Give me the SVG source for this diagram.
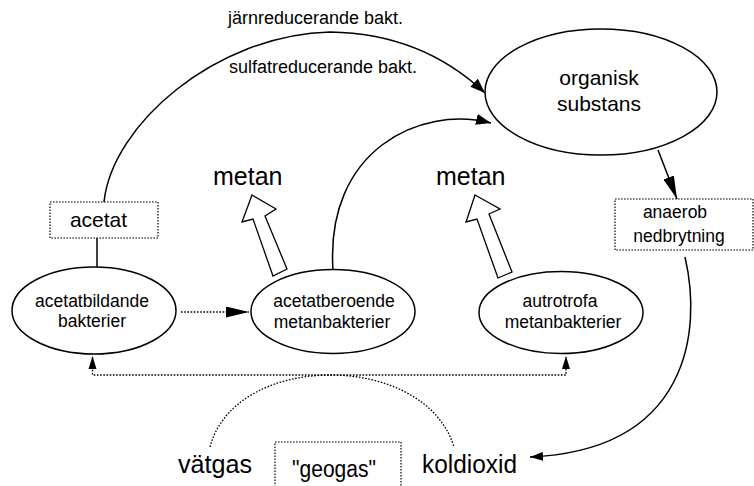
<svg xmlns="http://www.w3.org/2000/svg" width="754" height="486" viewBox="0 0 754 486">
<style>
text{font-family:"Liberation Sans",Arial,sans-serif;fill:#000}
.node{fill:#fff;stroke:#000;stroke-width:1.5}
.box{fill:#fff;stroke:#000;stroke-width:1.2;stroke-dasharray:1.6,1.4}
.line{fill:none;stroke:#000;stroke-width:1.5}
.dot{fill:none;stroke:#000;stroke-width:1.3;stroke-dasharray:1.6,1.6}
.hollow{fill:#fff;stroke:#000;stroke-width:1.3;stroke-linejoin:miter}
.s17{font-size:17.5px}
.s21{font-size:21px}
.s18{font-size:18px}
.s25{font-size:25px}
.s26{font-size:26.5px}
</style>
<defs>
<marker id="ah" markerUnits="userSpaceOnUse" orient="auto" markerWidth="15" markerHeight="11" refX="15" refY="5.5" viewBox="0 0 15 11"><path d="M0,0 L15,5.5 L0,11 z" fill="#000"/></marker>
<marker id="ahl" markerUnits="userSpaceOnUse" orient="auto" markerWidth="23" markerHeight="11" refX="23" refY="5.5" viewBox="0 0 23 11"><path d="M0,0 L23,5.5 L0,11 z" fill="#000"/></marker>
<marker id="ahs" markerUnits="userSpaceOnUse" orient="auto" markerWidth="13" markerHeight="9" refX="13" refY="4.5" viewBox="0 0 13 9"><path d="M0,0 L13,4.5 L0,9 z" fill="#000"/></marker>
</defs>

<g id="connectors">
<path class="line" d="M104,202 C112,125 215,35 330,32 C400,33 450,60 485,93" marker-end="url(#ah)"/>
<path class="line" d="M333,270 C325,150 420,105 491,123" marker-end="url(#ah)"/>
<path class="line" d="M97,238 L97,267"/>
<path class="line" d="M658,150 L677,199" marker-end="url(#ahl)"/>
<path class="line" d="M685,257 C702,330 690,450 530,457" marker-end="url(#ahs)"/>
<path class="dot" d="M181,312 L249,312" marker-end="url(#ahl)"/>
<path class="dot" d="M92.5,357 L92.5,375 L566,375 L566,357"/>
<path d="M92.5,356 L88.5,369 L96.5,369 z M566,356 L562,369 L570,369 z" fill="#000"/>
<path class="dot" d="M210,447 C235,351 425,351 454,447"/>
</g>

<g id="label-jarn"><text class="s18" x="228" y="24">järnreducerande bakt.</text></g>
<g id="label-sulfat"><text class="s18" x="229" y="73">sulfatreducerande bakt.</text></g>

<g id="organisk-substans">
<ellipse class="node" cx="601" cy="92" rx="116" ry="63"/>
<text class="s21" x="599" y="85" text-anchor="middle">organisk</text>
<text class="s21" x="599" y="111" text-anchor="middle">substans</text>
</g>

<g id="acetat">
<rect class="box" x="50" y="202" width="108" height="36"/>
<text class="s21" x="98.5" y="227" text-anchor="middle">acetat</text>
</g>

<g id="anaerob-nedbrytning">
<rect class="box" x="615" y="199" width="138" height="51"/>
<text class="s17" x="675" y="218" text-anchor="middle">anaerob</text>
<text class="s17" x="679" y="242" text-anchor="middle">nedbrytning</text>
</g>

<g id="acetatbildande">
<ellipse class="node" cx="94" cy="310.5" rx="82" ry="43.5"/>
<text class="s17" x="92" y="307" text-anchor="middle">acetatbildande</text>
<text class="s17" x="92" y="327" text-anchor="middle">bakterier</text>
</g>

<g id="acetatberoende">
<ellipse class="node" cx="333" cy="311.5" rx="82" ry="42"/>
<text class="s17" x="334" y="307" text-anchor="middle">acetatberoende</text>
<text class="s17" x="332" y="328" text-anchor="middle">metanbakterier</text>
</g>

<g id="autotrofa">
<ellipse class="node" cx="561" cy="312.5" rx="82" ry="41"/>
<text class="s17" x="560" y="307" text-anchor="middle">autrotrofa</text>
<text class="s17" x="563" y="328" text-anchor="middle">metanbakterier</text>
</g>

<g id="metan-1">
<polygon class="hollow" points="252,195 276,209 265,216 287,269 273,276 253,219 242,222"/>
<text class="s25" x="213" y="185">metan</text>
</g>

<g id="metan-2">
<polygon class="hollow" points="475,195 500,209 489,214 512,272 498,278 477,219 466,222"/>
<text class="s25" x="436" y="185">metan</text>
</g>

<g id="vatgas"><text class="s26" x="178" y="473" textLength="74" lengthAdjust="spacingAndGlyphs">vätgas</text></g>
<g id="geogas">
<rect class="box" x="275" y="442" width="126" height="60"/>
<text x="292" y="477" style="font-size:23px" textLength="84" lengthAdjust="spacingAndGlyphs">"geogas"</text>
</g>
<g id="koldioxid"><text class="s26" x="422" y="473" textLength="95" lengthAdjust="spacingAndGlyphs">koldioxid</text></g>
</svg>
